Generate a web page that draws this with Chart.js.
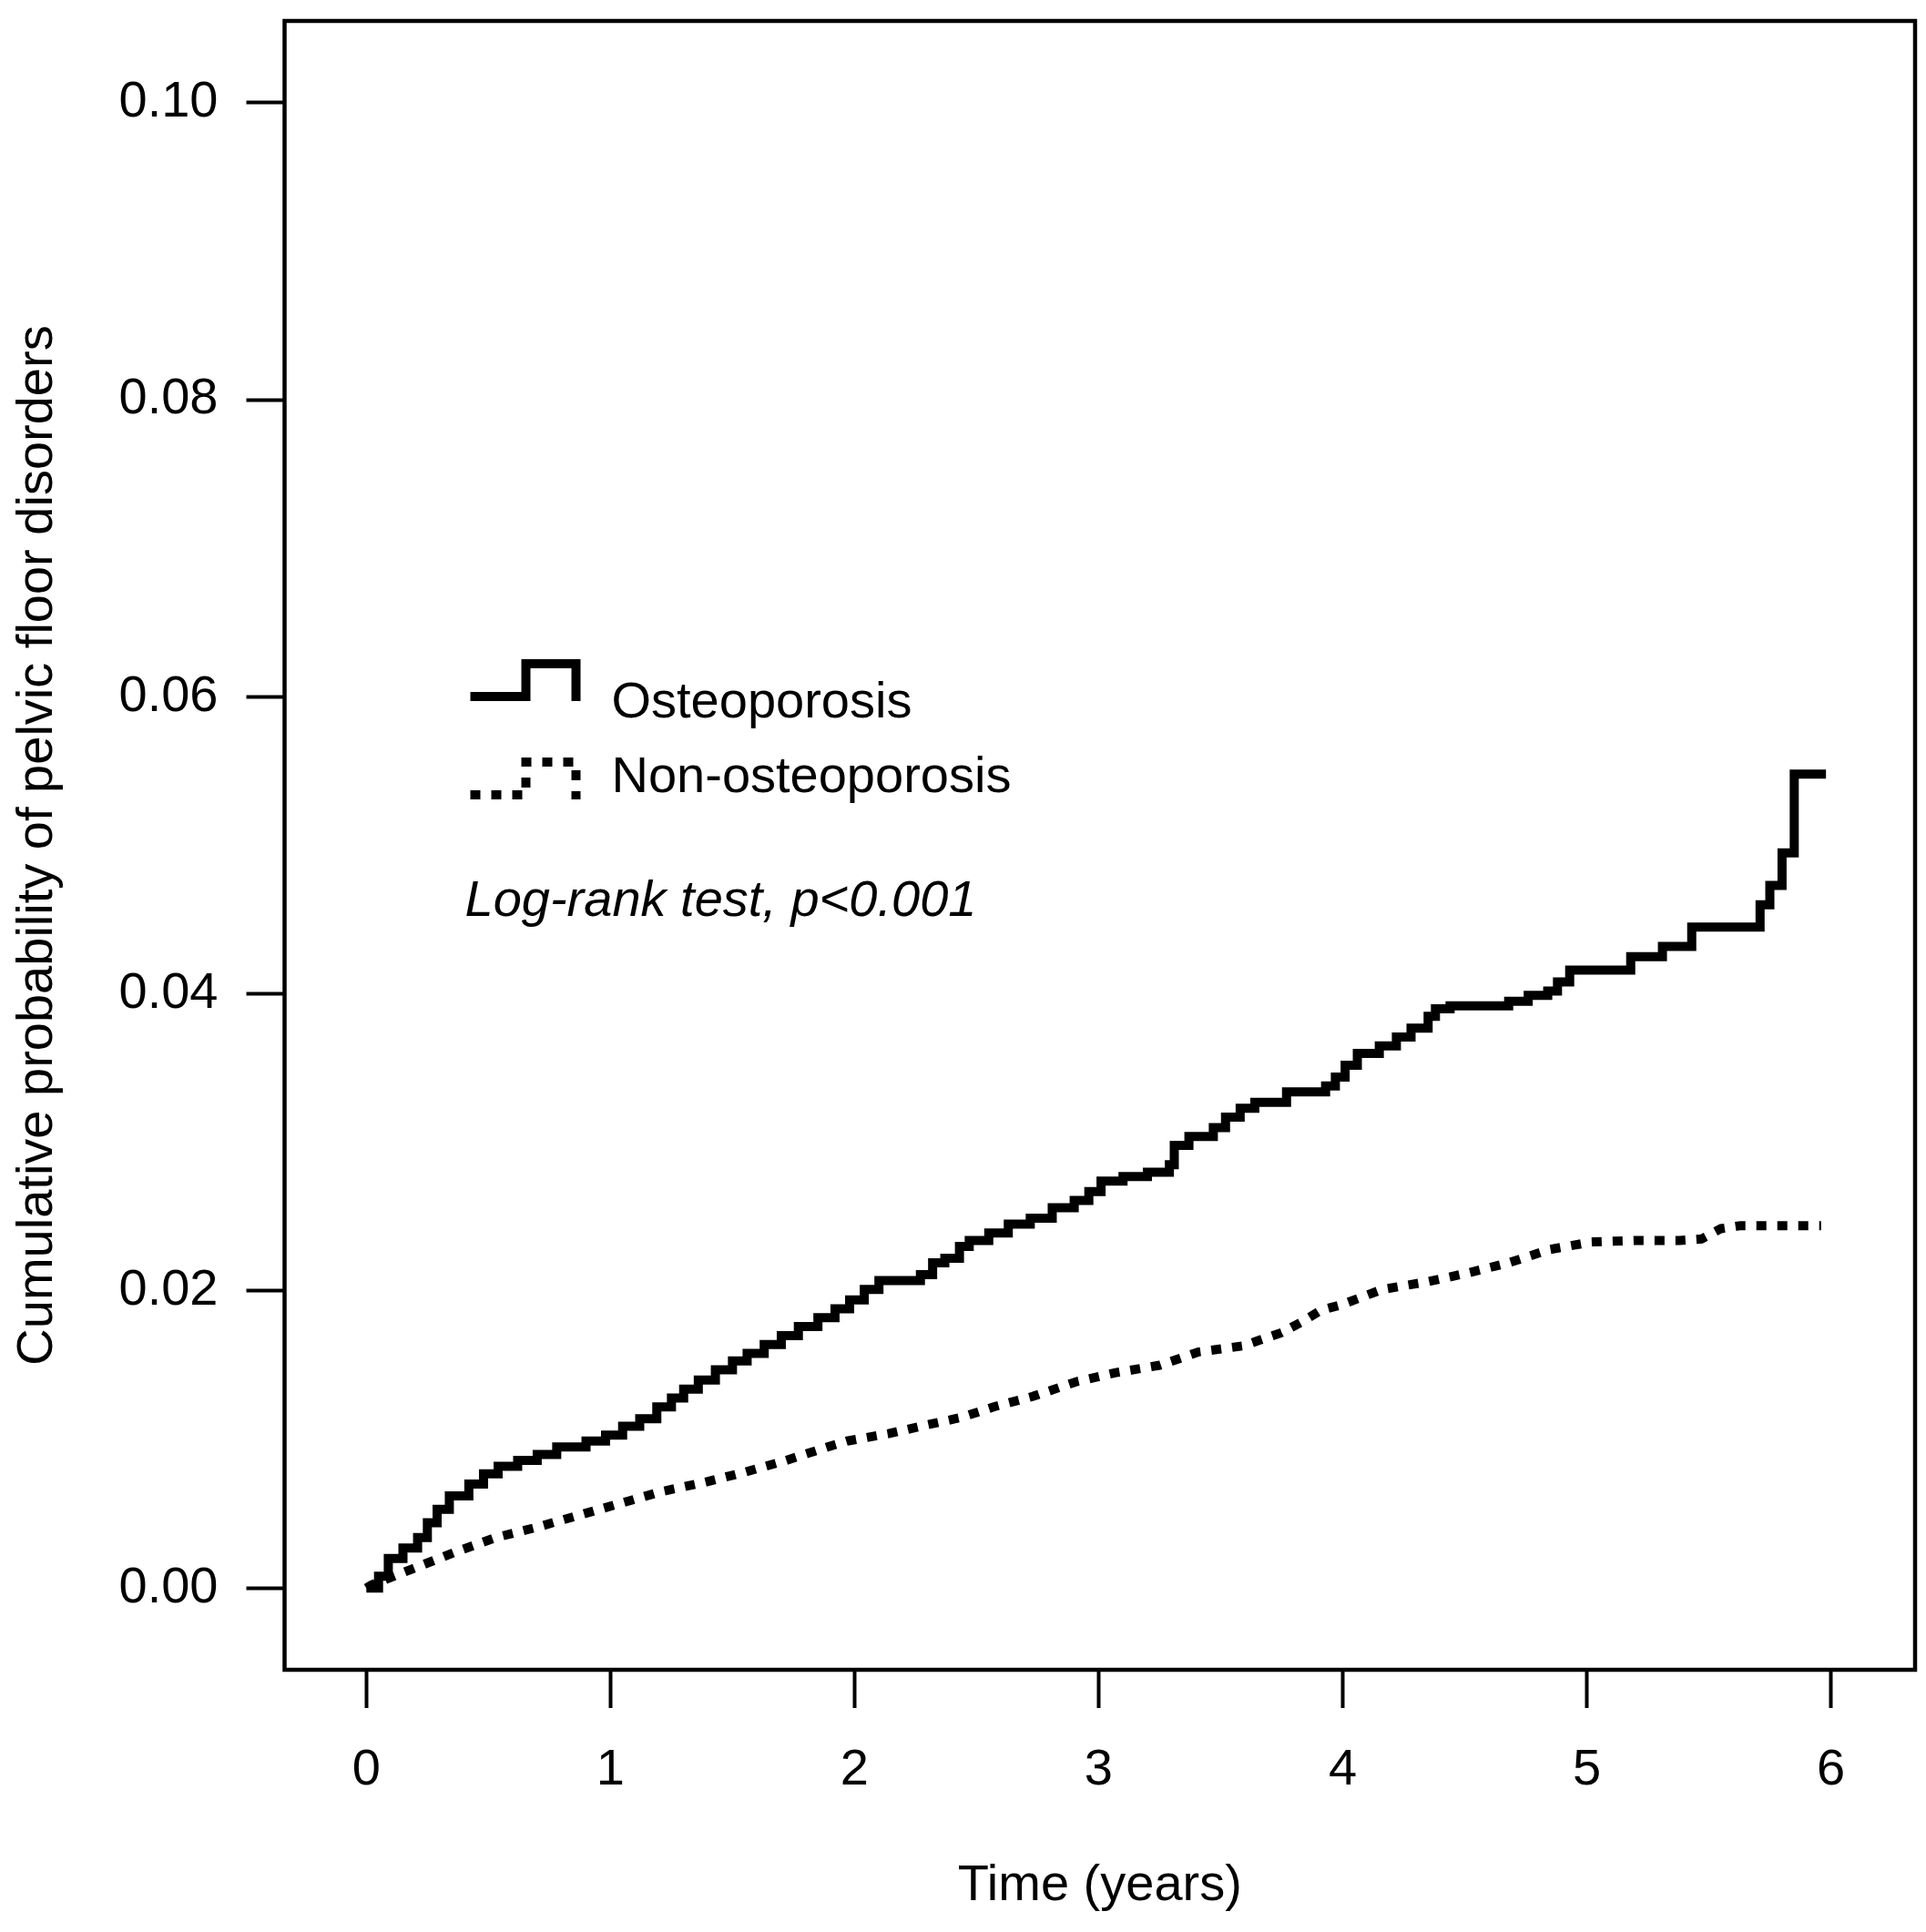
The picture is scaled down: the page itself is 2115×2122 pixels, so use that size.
<!DOCTYPE html>
<html>
<head>
<meta charset="utf-8">
<script src="https://cdn.jsdelivr.net/npm/chart.js@4.4.1/dist/chart.umd.min.js"></script>
<style>
  html, body { margin: 0; padding: 0; background: #fff; }
  canvas { display: block; }
</style>
</head>
<body>
<canvas id="chart" width="2115" height="2122"></canvas>
<script>
// Kaplan-Meier cumulative incidence
const osteoTime = [0, 0.05, 0.09, 0.15, 0.21, 0.25, 0.29, 0.34, 0.42, 0.48, 0.54, 0.62, 0.70, 0.78, 0.90, 0.98,
    1.05, 1.12, 1.19, 1.25, 1.30, 1.36, 1.43, 1.50, 1.56, 1.63, 1.70, 1.77, 1.85, 1.92, 1.98,
    2.04, 2.10, 2.27, 2.32, 2.37, 2.43, 2.47, 2.55, 2.63, 2.72, 2.81, 2.90, 2.96,
    3.01, 3.10, 3.20, 3.29, 3.31, 3.37, 3.47, 3.52, 3.58, 3.64, 3.77, 3.93, 3.97,
    4.01, 4.06, 4.15, 4.22, 4.28, 4.35, 4.38, 4.44, 4.68, 4.76, 4.84, 4.88, 4.93,
    5.18, 5.31, 5.43, 5.71, 5.75, 5.80, 5.85, 5.98];
const osteoProb = [0, 0.0008, 0.0020, 0.0027, 0.0034, 0.0044, 0.0053, 0.0062, 0.0070, 0.0077, 0.0082, 0.0086, 0.0090, 0.0095, 0.0099, 0.0103,
    0.0109, 0.0114, 0.0122, 0.0128, 0.0134, 0.0140, 0.0147, 0.0153, 0.0158, 0.0164, 0.0170, 0.0176, 0.0182, 0.0188, 0.0194,
    0.0201, 0.0207, 0.0211, 0.0219, 0.0222, 0.0230, 0.0234, 0.0239, 0.0245, 0.0249, 0.0256, 0.0261, 0.0267,
    0.0274, 0.0277, 0.0280, 0.0285, 0.0298, 0.0304, 0.0310, 0.0317, 0.0323, 0.0327, 0.0334, 0.0338, 0.0344,
    0.0352, 0.0360, 0.0365, 0.0371, 0.0377, 0.0385, 0.0390, 0.0392, 0.0395, 0.0399, 0.0402, 0.0408, 0.0416,
    0.0425, 0.0432, 0.0445, 0.0460, 0.0473, 0.0495, 0.0548, 0.0548];

const nonOsteoTime = [0, 0.02, 0.19, 0.36, 0.53, 0.70, 0.87, 1.04, 1.21, 1.38, 1.55, 1.72, 1.89, 1.97,
    2.14, 2.30, 2.44, 2.57, 2.73, 2.91, 3.07, 3.25, 3.41, 3.59, 3.75, 3.83, 3.91,
    4.00, 4.16, 4.34, 4.51, 4.68, 4.85, 5.02, 5.20, 5.38, 5.47, 5.55, 5.63, 5.96];
const nonOsteoProb = [0, 0.0002, 0.0013, 0.0024, 0.0034, 0.0041, 0.0049, 0.0057, 0.0065, 0.0071, 0.0078, 0.0086, 0.0095, 0.0099,
    0.0104, 0.0110, 0.0115, 0.0122, 0.0129, 0.0139, 0.0145, 0.0150, 0.0159, 0.0163, 0.0172, 0.0179, 0.0187,
    0.0191, 0.0201, 0.0206, 0.0212, 0.0219, 0.0228, 0.0233, 0.0234, 0.0234, 0.0235, 0.0242, 0.0244, 0.0244];

const xTicks = [0, 1, 2, 3, 4, 5, 6];
const yTicks = [0, 0.02, 0.04, 0.06, 0.08, 0.10];
const seriesNames = ['Osteoporosis', 'Non-osteoporosis'];
const testNote = 'Log-rank test, p<0.001';

const FONT = '"Liberation Sans", Arial, Helvetica, sans-serif';

function pts(xs, ys) {
    return xs.map((x, i) => ({ x: x, y: ys[i] }));
}

// box round the plot + legend drawn by hand, R style
const boxAndKey = {
    id: 'boxAndKey',
    afterDraw(chart) {
        const ctx = chart.ctx;
        const a = chart.chartArea;
        ctx.save();
        ctx.strokeStyle = '#000';
        ctx.lineWidth = 4.5;
        ctx.strokeRect(a.left, a.top, a.right - a.left, a.bottom - a.top);

        // legend keys: little step shapes
        const L = a.left;
        function stepKey(y0, dashed) {
            ctx.beginPath();
            ctx.lineWidth = 10;
            ctx.lineJoin = 'miter';
            ctx.lineCap = 'butt';
            ctx.setLineDash(dashed ? [11, 12] : []);
            ctx.moveTo(L + 204, y0);
            ctx.lineTo(L + 265, y0);
            ctx.lineTo(L + 265, y0 - 36);
            ctx.lineTo(L + 320, y0 - 36);
            ctx.lineTo(L + 320, y0 + 5);
            ctx.stroke();
        }
        stepKey(a.top + 742, false);
        stepKey(a.top + 850, true);
        ctx.setLineDash([]);

        ctx.fillStyle = '#000';
        ctx.textBaseline = 'alphabetic';
        ctx.textAlign = 'left';
        ctx.font = '56px ' + FONT;
        ctx.fillText(seriesNames[0], L + 359, a.top + 765);
        ctx.fillText(seriesNames[1], L + 359, a.top + 847);
        ctx.font = 'italic 56px ' + FONT;
        ctx.fillText(testNote, L + 198, a.top + 983);
        ctx.restore();
    }
};

const ctx = document.getElementById('chart');
new Chart(ctx, {
    type: 'line',
    data: {
        datasets: [{
            label: seriesNames[0],
            data: pts(osteoTime, osteoProb),
            borderColor: '#000',
            borderWidth: 10,
            stepped: true,
            pointRadius: 0,
            borderJoinStyle: 'miter',
            borderCapStyle: 'butt',
            fill: false
        }, {
            label: seriesNames[1],
            data: pts(nonOsteoTime, nonOsteoProb),
            borderColor: '#000',
            borderWidth: 10,
            borderDash: [11, 12],
            pointRadius: 0,
            tension: 0,
            borderCapStyle: 'butt',
            fill: false
        }]
    },
    options: {
        responsive: false,
        animation: false,
        devicePixelRatio: 1,
        layout: { padding: { top: 23, right: 12, bottom: 0, left: 0 } },
        plugins: {
            legend: { display: false },
            tooltip: { enabled: false }
        },
        scales: {
            x: {
                type: 'linear',
                min: -0.335,
                max: 6.345,
                afterFit(scale) {
                    scale.height = 288;
                    scale.paddingLeft = 0;
                    scale.paddingRight = 0;
                },
                afterBuildTicks(scale) { scale.ticks = xTicks.map(v => ({ value: v })); },
                grid: { drawOnChartArea: false, drawTicks: true, tickLength: 42, tickWidth: 4, tickColor: '#000' },
                border: { display: false },
                ticks: {
                    padding: 35,
                    color: '#000',
                    maxRotation: 0,
                    autoSkip: false,
                    font: { family: FONT, size: 56 },
                    callback: v => String(v)
                },
                title: {
                    display: true,
                    text: 'Time (years)',
                    color: '#000',
                    font: { family: FONT, size: 56 },
                    padding: { top: 0, bottom: 17 }
                }
            },
            y: {
                type: 'linear',
                min: -0.0055,
                max: 0.1055,
                afterFit(scale) {
                    scale.width = 312.5;
                    scale.paddingTop = 0;
                    scale.paddingBottom = 0;
                },
                afterBuildTicks(scale) { scale.ticks = yTicks.map(v => ({ value: v })); },
                grid: { drawOnChartArea: false, drawTicks: true, tickLength: 42, tickWidth: 4, tickColor: '#000' },
                border: { display: false },
                ticks: {
                    padding: 31,
                    color: '#000',
                    autoSkip: false,
                    font: { family: FONT, size: 56 },
                    callback: v => v.toFixed(2)
                },
                title: {
                    display: true,
                    text: 'Cumulative probability of pelvic floor disorders',
                    color: '#000',
                    font: { family: FONT, size: 56 },
                    padding: { top: 8, bottom: 0 }
                }
            }
        }
    },
    plugins: [boxAndKey]
});
</script>
</body>
</html>
